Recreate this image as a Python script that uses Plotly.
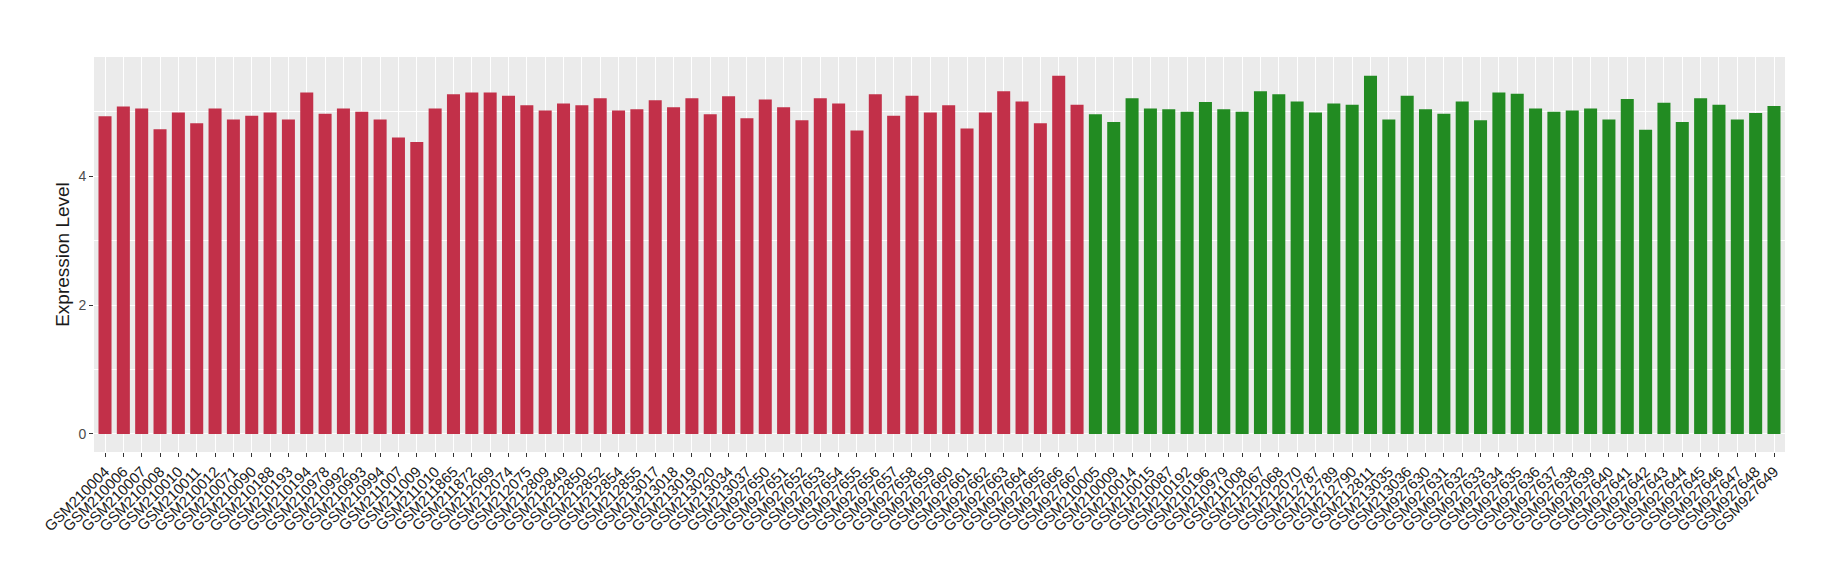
import plotly.graph_objects as go

red_samples = [
    "GSM210004", "GSM210006", "GSM210007", "GSM210008", "GSM210010", "GSM210011",
    "GSM210012", "GSM210071", "GSM210090", "GSM210188", "GSM210193", "GSM210194",
    "GSM210978", "GSM210992", "GSM210993", "GSM210994", "GSM211007", "GSM211009",
    "GSM211010", "GSM211865", "GSM211872", "GSM212069", "GSM212074", "GSM212075",
    "GSM212809", "GSM212849", "GSM212850", "GSM212852", "GSM212854", "GSM212855",
    "GSM213017", "GSM213018", "GSM213019", "GSM213020", "GSM213034", "GSM213037",
    "GSM927650", "GSM927651", "GSM927652", "GSM927653", "GSM927654", "GSM927655",
    "GSM927656", "GSM927657", "GSM927658", "GSM927659", "GSM927660", "GSM927661",
    "GSM927662", "GSM927663", "GSM927664", "GSM927665", "GSM927666", "GSM927667",
]
red_values = [
    4.93, 5.08, 5.05, 4.73, 4.99, 4.82,
    5.05, 4.88, 4.94, 4.99, 4.88, 5.30,
    4.97, 5.05, 5.00, 4.88, 4.60, 4.53,
    5.05, 5.27, 5.30, 5.30, 5.25, 5.10,
    5.02, 5.13, 5.10, 5.21, 5.02, 5.04,
    5.18, 5.07, 5.21, 4.96, 5.24, 4.90,
    5.19, 5.07, 4.87, 5.21, 5.13, 4.71,
    5.27, 4.94, 5.25, 4.99, 5.10, 4.74,
    4.99, 5.32, 5.16, 4.82, 5.56, 5.11,
]

green_samples = [
    "GSM210005", "GSM210009", "GSM210014", "GSM210015", "GSM210087", "GSM210192",
    "GSM210196", "GSM210979", "GSM211008", "GSM212067", "GSM212068", "GSM212070",
    "GSM212787", "GSM212789", "GSM212790", "GSM212811", "GSM213035", "GSM213036",
    "GSM927630", "GSM927631", "GSM927632", "GSM927633", "GSM927634", "GSM927635",
    "GSM927636", "GSM927637", "GSM927638", "GSM927639", "GSM927640", "GSM927641",
    "GSM927642", "GSM927643", "GSM927644", "GSM927645", "GSM927646", "GSM927647",
    "GSM927648", "GSM927649",
]
green_values = [
    4.96, 4.84, 5.21, 5.05, 5.04, 5.00,
    5.15, 5.04, 5.00, 5.32, 5.27, 5.16,
    4.99, 5.13, 5.11, 5.56, 4.88, 5.25,
    5.04, 4.97, 5.16, 4.87, 5.30, 5.28,
    5.05, 5.00, 5.02, 5.05, 4.88, 5.20,
    4.72, 5.14, 4.84, 5.21, 5.11, 4.88,
    4.98, 5.09,
]

y_ticks = [0, 2, 4]

RED = "#C23049"
GREEN = "#228B22"

categories = red_samples + green_samples

fig = go.Figure()
fig.add_trace(go.Bar(x=red_samples, y=red_values, marker=dict(color=RED, line=dict(width=0)),
                     width=0.71, showlegend=False))
fig.add_trace(go.Bar(x=green_samples, y=green_values, marker=dict(color=GREEN, line=dict(width=0)),
                     width=0.71, showlegend=False))

fig.update_layout(
    width=1840, height=580,
    margin=dict(l=86, r=63, t=49, b=136),
    paper_bgcolor="white",
    plot_bgcolor="#EBEBEB",
    font=dict(family="Liberation Sans, Arial, sans-serif", color="#1A1A1A"),
    barmode="overlay",
    xaxis=dict(
        type="category",
        categoryorder="array",
        categoryarray=categories,
        range=[-0.6, len(categories) - 0.4],
        tickangle=-45,
        tickfont=dict(size=15, color="#1A1A1A"),
        ticks="outside", ticklen=4, tickcolor="#333333", tickwidth=1,
        showgrid=True, gridcolor="white", gridwidth=1.4,
        zeroline=False, showline=False,
        automargin=False,
    ),
    yaxis=dict(
        range=[-0.28, 5.85],
        tickvals=y_ticks,
        ticktext=[str(v) for v in y_ticks],
        tickfont=dict(size=14, color="#4D4D4D"),
        ticks="outside", ticklen=4, tickcolor="#333333", tickwidth=1,
        showgrid=True, gridcolor="white", gridwidth=1.4,
        minor=dict(dtick=1, tick0=0, showgrid=True, gridcolor="white", gridwidth=0.7, ticks=""),
        zeroline=False, showline=False,
        automargin=False,
        title=dict(text="Expression Level", font=dict(size=19, color="#1A1A1A"), standoff=3),
    ),
)

fig.write_html("out.html")
